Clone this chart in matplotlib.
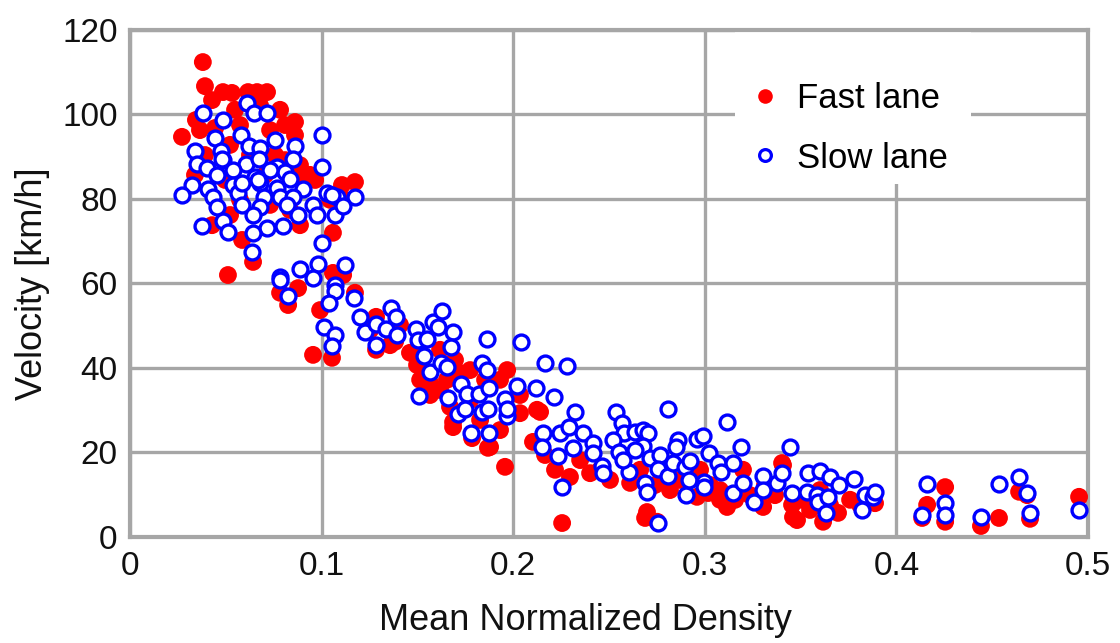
import matplotlib
matplotlib.use('Agg')
import matplotlib.pyplot as plt
from matplotlib.lines import Line2D
from matplotlib.patches import Rectangle

plt.rcParams['font.family'] = ['Liberation Sans', 'DejaVu Sans']

# slow lane (open blue circles): mean normalized density, velocity [km/h]
slow_x = [0.038, 0.0485, 0.061, 0.0647, 0.0715, 0.1002, 0.0444, 0.0579, 0.0757, 0.0861,
          0.0339, 0.0475, 0.0621, 0.0678, 0.0851, 0.1002, 0.035, 0.0485, 0.0605, 0.0673,
          0.0402, 0.0454, 0.0538, 0.0652, 0.0767, 0.0809, 0.0835, 0.0324, 0.0538, 0.0678,
          0.0767, 0.0903, 0.0271, 0.0407, 0.0433, 0.0564, 0.0699, 0.0783, 0.0851, 0.1028,
          0.108, 0.1174, 0.0955, 0.0454, 0.0585, 0.0678, 0.0819, 0.0877, 0.0976, 0.107,
          0.0642, 0.0376, 0.0485, 0.0511, 0.0715, 0.0799, 0.0642, 0.1002, 0.0637, 0.0887,
          0.0981, 0.1122, 0.0783, 0.0955, 0.1112, 0.1054, 0.0731, 0.0668, 0.0585, 0.048,
          0.0783, 0.0825, 0.107, 0.107, 0.1039, 0.1169, 0.12, 0.1226, 0.1284, 0.1284,
          0.1362, 0.1388, 0.1336, 0.1394, 0.1013, 0.107, 0.1054, 0.1493, 0.1503, 0.155,
          0.1581, 0.1628, 0.1608, 0.1686, 0.1675, 0.1534, 0.1566, 0.1623, 0.1654, 0.1863,
          0.2041, 0.2166, 0.1837, 0.1863, 0.1508, 0.166, 0.1728, 0.1759, 0.1822, 0.1874,
          0.1957, 0.202, 0.2119, 0.1712, 0.1748, 0.1837, 0.1868, 0.1968, 0.178, 0.1874,
          0.2156, 0.215, 0.2281, 0.2213, 0.1968, 0.2244, 0.2291, 0.2323, 0.2312, 0.2364,
          0.2234, 0.2255, 0.2416, 0.2416, 0.2463, 0.2469, 0.2537, 0.2568, 0.2578, 0.2521,
          0.2552, 0.2604, 0.2636, 0.2677, 0.2704, 0.2677, 0.2714, 0.2766, 0.2808, 0.2756,
          0.2808, 0.2688, 0.2698, 0.2756, 0.2834, 0.286, 0.285, 0.2897, 0.2902, 0.2923,
          0.2959, 0.2918, 0.2991, 0.3022, 0.2996, 0.2996, 0.3069, 0.3085, 0.3116, 0.3147,
          0.3147, 0.3189, 0.3199, 0.3257, 0.3304, 0.3304, 0.3377, 0.3403, 0.3445, 0.3455,
          0.2636, 0.2573, 0.3539, 0.3533, 0.3586, 0.3601, 0.3653, 0.37, 0.3591, 0.3643,
          0.3633, 0.3779, 0.3836, 0.3878, 0.3888, 0.382, 0.416, 0.4254, 0.4254, 0.4134,
          0.4441, 0.4535, 0.464, 0.4682, 0.4697, 0.4953]
slow_y = [100.4, 98.7, 102.7, 100.4, 100.4, 95.1, 94.4, 95.1, 94.0, 92.5,
          91.4, 91.4, 92.5, 92.1, 89.5, 87.6, 88.3, 89.2, 88.3, 89.5,
          87.3, 85.7, 86.9, 85.2, 87.6, 86.4, 84.7, 83.3, 83.3, 83.8,
          82.6, 82.4, 80.9, 82.4, 80.5, 81.4, 80.5, 80.5, 80.5, 81.4,
          80.5, 80.5, 78.6, 78.1, 78.6, 78.1, 78.6, 76.2, 76.2, 76.2,
          76.2, 73.6, 74.8, 72.2, 73.1, 73.6, 72.0, 69.6, 67.5, 63.4,
          64.6, 64.4, 61.5, 61.3, 78.3, 80.9, 86.9, 84.5, 83.8, 89.5,
          60.8, 57.0, 59.6, 58.2, 55.4, 56.6, 52.1, 48.5, 50.4, 45.4,
          54.2, 52.1, 49.2, 47.8, 49.7, 47.8, 45.2, 49.2, 46.6, 46.9,
          50.9, 53.5, 49.7, 48.5, 45.0, 42.8, 39.1, 41.2, 40.2, 46.9,
          46.2, 41.2, 41.2, 39.5, 33.4, 32.9, 36.2, 33.8, 33.8, 35.3,
          32.7, 35.7, 35.3, 29.1, 30.3, 29.6, 30.3, 28.6, 24.6, 24.6,
          24.6, 21.3, 40.5, 33.1, 30.3, 24.6, 26.0, 29.6, 21.1, 24.6,
          19.2, 11.8, 22.2, 19.9, 16.8, 15.1, 29.6, 27.0, 24.6, 23.0,
          20.1, 15.4, 24.9, 25.3, 24.6, 21.5, 18.7, 19.4, 30.3, 16.1,
          14.4, 12.8, 10.7, 3.3, 17.5, 23.0, 21.3, 16.6, 9.9, 18.0,
          23.2, 13.5, 23.9, 19.9, 13.0, 11.8, 17.5, 15.4, 27.2, 17.5,
          10.4, 21.3, 12.8, 8.3, 14.4, 11.1, 12.8, 15.1, 21.3, 10.4,
          20.6, 18.2, 15.1, 10.7, 9.9, 15.6, 14.2, 12.3, 8.3, 9.5,
          5.7, 13.7, 9.9, 9.5, 10.7, 6.4, 12.5, 8.0, 5.2, 5.2,
          4.7, 12.5, 14.2, 10.4, 5.7, 6.4]

# fast lane (filled red circles)
fast_x = [0.038, 0.0391, 0.0485, 0.0532, 0.0616, 0.0663, 0.0715, 0.0344, 0.0271, 0.0861,
          0.0861, 0.1174, 0.1106, 0.1059, 0.0585, 0.0642, 0.0511, 0.0966, 0.1059, 0.1112,
          0.0428, 0.0548, 0.0678, 0.0783, 0.0809, 0.0574, 0.0444, 0.0522, 0.0731, 0.0365,
          0.0391, 0.0626, 0.0757, 0.0809, 0.0887, 0.0939, 0.0705, 0.0496, 0.0339, 0.0574,
          0.0731, 0.0887, 0.0835, 0.0522, 0.0428, 0.0887, 0.1044, 0.1122,
          0.0783, 0.0825, 0.0877, 0.0992, 0.0955, 0.1054, 0.1174, 0.1284, 0.1284, 0.1383,
          0.1461, 0.1498, 0.1514, 0.1566, 0.1654, 0.1707, 0.1968, 0.167, 0.1686, 0.1785,
          0.1868, 0.1957, 0.2035, 0.2124, 0.2103, 0.1686, 0.214, 0.1879, 0.2255, 0.2296,
          0.2401, 0.261, 0.2688, 0.2751, 0.3079, 0.3116, 0.3403, 0.346, 0.2959, 0.2698,
          0.3304, 0.3481, 0.3199, 0.3017,
          0.4254, 0.416, 0.4134, 0.4254, 0.4441, 0.4535, 0.464, 0.4697, 0.4682, 0.4953,
          0.3617, 0.3695, 0.3888, 0.381, 0.3455, 0.3408,
          0.1566, 0.1618, 0.1775, 0.1827, 0.1931, 0.2166, 0.2218, 0.2349, 0.2453, 0.2505,
          0.2662, 0.274, 0.2818, 0.2871, 0.2975, 0.3027, 0.3079, 0.3158, 0.3236, 0.3314,
          0.3366, 0.3497, 0.3549, 0.3601, 0.3653, 0.3758, 0.1253, 0.1409, 0.1357, 0.1514,
          0.1618, 0.1696, 0.1775, 0.1853, 0.1931, 0.2035]
fast_y = [112.4, 106.7, 105.3, 105.1, 105.3, 105.3, 105.3, 98.7, 94.7, 98.2,
          95.1, 84.0, 83.3, 72.0, 70.3, 65.1, 62.0, 84.5, 62.5, 62.0,
          103.4, 101.1, 102.2, 101.1, 97.5, 97.5, 96.8, 92.8, 96.3, 96.3,
          90.4, 90.4, 90.4, 89.2, 88.0, 85.7, 85.7, 84.5, 85.7, 79.8,
          78.6, 84.5, 77.4, 76.2, 73.8, 73.8, 79.8, 79.8,
          57.8, 54.9, 58.9, 53.7, 43.1, 42.4, 57.8, 52.1, 44.3, 46.2,
          43.6, 40.7, 37.2, 36.4, 37.2, 39.1, 39.5, 30.8, 26.0, 23.4,
          21.1, 16.6, 29.3, 30.1, 22.5, 27.2, 29.6, 21.3, 3.3, 14.2,
          15.1, 12.8, 4.5, 3.6, 8.8, 7.1, 17.5, 4.7, 9.5, 5.9,
          7.1, 4.0, 15.9, 10.4,
          11.8, 7.6, 4.5, 3.6, 2.6, 4.5, 10.7, 4.3, 9.9, 9.5,
          3.6, 5.7, 8.0, 7.6, 7.6, 17.0,
          33.6, 34.8, 32.4, 27.7, 25.3, 19.4, 15.9, 18.2, 15.9, 13.5,
          15.9, 12.3, 11.1, 13.5, 15.9, 12.3, 11.1, 8.8, 9.9, 12.3,
          9.9, 8.8, 6.4, 11.1, 7.6, 8.8, 49.0, 50.2, 45.4, 45.4,
          44.3, 41.9, 39.5, 37.2, 37.2, 33.6]

grey = '#a6a6a6'

fig = plt.figure(figsize=(11.2, 6.43), dpi=100)
ax = fig.add_axes([0.1161, 0.1649, 0.8554, 0.7885])

ax.scatter(fast_x, fast_y, s=165, c='#ff0000', edgecolors='none', zorder=3)
ax.scatter(slow_x, slow_y, s=115, facecolors='white', edgecolors='#0000ff',
           linewidths=2.4, zorder=4)

ax.set_xlim(0, 0.5)
ax.set_ylim(0, 120)
ax.set_xticks([0, 0.1, 0.2, 0.3, 0.4, 0.5])
ax.set_xticklabels(['0', '0.1', '0.2', '0.3', '0.4', '0.5'])
ax.set_yticks(range(0, 121, 20))
ax.grid(True, color=grey, linewidth=2.4, zorder=1)
ax.set_axisbelow(True)
for sp in ax.spines.values():
    sp.set_color(grey)
    sp.set_linewidth(3)
ax.tick_params(axis='both', length=0, labelsize=24, colors='#111111')
ax.tick_params(axis='x', pad=10)
ax.tick_params(axis='y', pad=9)

ax.set_xlabel('Mean Normalized Density', fontsize=26, color='#111111')
ax.xaxis.set_label_coords(0.475, -0.13)
ax.set_ylabel('Velocity [km/h]', fontsize=26, labelpad=9, color='#111111')

# white box behind the legend hides the grid
ax.add_patch(Rectangle((0.6315, 0.696), 0.246, 0.304, transform=ax.transAxes,
                       facecolor='white', edgecolor='none', zorder=2))

handles = [Line2D([], [], ls='none', marker='o', markersize=10.5, markerfacecolor='#ff0000',
                  markeredgecolor='none', label='Fast lane'),
           Line2D([], [], ls='none', marker='o', markersize=8.5, markerfacecolor='white',
                  markeredgecolor='#0000ff', markeredgewidth=2.3, label='Slow lane')]
leg = ax.legend(handles=handles, loc='upper left', bbox_to_anchor=(0.6447, 0.897),
                frameon=False, fontsize=25, handlelength=1.0, handletextpad=0.42,
                labelspacing=0.76, borderaxespad=0, borderpad=0)
leg.set_zorder(5)

fig.savefig('out.png', dpi=100)
